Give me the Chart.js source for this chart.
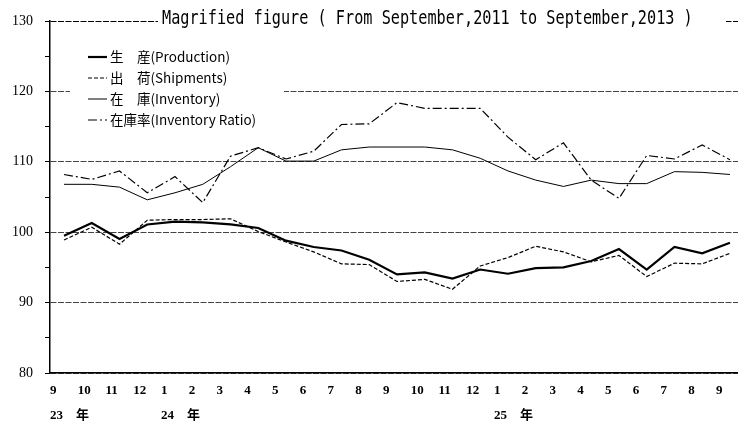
<!DOCTYPE html>
<html>
<head>
<meta charset="utf-8">
<script src="https://cdn.jsdelivr.net/npm/chart.js@4.4.0/dist/chart.umd.min.js"></script>
<style>
  body { margin: 0; background: #fff; }
  canvas { display: block; }
</style>
</head>
<body>
<canvas id="chart" width="738" height="425"></canvas>
<script>
const titleText = 'Magrified figure ( From September,2011 to September,2013 )';
const months = ['9', '10', '11', '12', '1', '2', '3', '4', '5', '6', '7', '8', '9', '10', '11', '12', '1', '2', '3', '4', '5', '6', '7', '8', '9'];
const years = ['23\u3000年', '', '', '', '24\u3000年', '', '', '', '', '', '', '', '', '', '', '', '25\u3000年', '', '', '', '', '', '', '', ''];
const seriesNames = ['生\u3000産(Production)', '出\u3000荷(Shipments)', '在\u3000庫(Inventory)', '在庫率(Inventory Ratio)'];

const production = [99.5, 101.3, 99.05, 101.1, 101.5, 101.4, 101.1, 100.6, 98.8, 97.9, 97.4, 96.1, 94.0, 94.3, 93.4, 94.7, 94.1, 94.9, 95.0, 95.9, 97.6, 94.7, 97.9, 97.0, 98.5];
const shipments = [98.9, 100.7, 98.3, 101.7, 101.8, 101.8, 101.9, 100.1, 98.6, 97.2, 95.5, 95.4, 93.0, 93.3, 91.9, 95.2, 96.4, 98.0, 97.2, 95.8, 96.7, 93.7, 95.6, 95.5, 97.0];
const inventory = [106.8, 106.8, 106.4, 104.6, 105.6, 106.8, 109.3, 112.0, 110.1, 110.1, 111.7, 112.1, 112.1, 112.1, 111.7, 110.5, 108.7, 107.4, 106.5, 107.4, 106.9, 106.9, 108.6, 108.5, 108.2];
const ratio = [108.2, 107.5, 108.7, 105.6, 107.9, 104.2, 110.8, 112.0, 110.4, 111.5, 115.3, 115.4, 118.4, 117.6, 117.6, 117.6, 113.5, 110.3, 112.7, 107.4, 104.8, 110.9, 110.4, 112.4, 110.3];

const toPoints = arr => arr.map((v, i) => ({ x: i, y: v }));

// title box and legend box sit on top of the grid, with white backgrounds
const overlay = {
  id: 'overlay',
  afterDraw(chart) {
    const ctx = chart.ctx;
    ctx.save();
    ctx.fillStyle = '#fff';
    ctx.fillRect(158, 6, 568, 28);
    ctx.fillStyle = '#000';
    ctx.textBaseline = 'middle';
    ctx.textAlign = 'left';
    ctx.save();
    ctx.translate(162, 19);
    ctx.scale(0.8, 1);
    ctx.font = '19px "DejaVu Sans Mono", monospace';
    ctx.fillText(titleText, 0, 0);
    ctx.restore();

    ctx.fillStyle = '#fff';
    ctx.fillRect(70, 45, 214, 86);
    ctx.font = '13.5px "Noto Sans CJK JP", sans-serif';
    chart.data.datasets.forEach((ds, i) => {
      const y = 57 + i * 21;
      ctx.beginPath();
      ctx.setLineDash(ds.borderDash || []);
      ctx.lineWidth = ds.borderWidth;
      ctx.strokeStyle = ds.borderColor;
      ctx.moveTo(88, y);
      ctx.lineTo(107, y);
      ctx.stroke();
      ctx.setLineDash([]);
      ctx.fillStyle = '#000';
      ctx.fillText(ds.label, 110, y);
    });
    ctx.restore();
  }
};

const ctx = document.getElementById('chart').getContext('2d');
const chart = new Chart(ctx, {
  type: 'line',
  data: {
    datasets: [{
      label: seriesNames[0],
      data: toPoints(production),
      borderColor: '#000',
      borderWidth: 2.2
    }, {
      label: seriesNames[1],
      data: toPoints(shipments),
      borderColor: '#000',
      borderWidth: 1.2,
      borderDash: [4, 2]
    }, {
      label: seriesNames[2],
      data: toPoints(inventory),
      borderColor: '#000',
      borderWidth: 1
    }, {
      label: seriesNames[3],
      data: toPoints(ratio),
      borderColor: '#000',
      borderWidth: 1.2,
      borderDash: [9, 3, 2, 3]
    }]
  },
  options: {
    responsive: false,
    animation: false,
    layout: { padding: { top: 21, left: 0, right: 0, bottom: 0 } },
    elements: { point: { radius: 0 }, line: { tension: 0 } },
    plugins: {
      legend: { display: false },
      tooltip: { enabled: false }
    },
    scales: {
      x: {
        type: 'linear',
        min: -0.505,
        max: 24.29,
        afterBuildTicks: scale => {
          scale.ticks = months.map((m, i) => ({ value: i }));
        },
        afterFit: scale => {
          scale.height = 52;
          scale.paddingLeft = 0;
          scale.paddingRight = 0;
        },
        grid: { display: false },
        border: { display: true, color: '#000', width: 1.5 },
        ticks: {
          autoSkip: false,
          maxRotation: 0,
          align: 'start',
          labelOffset: -14,
          padding: -3,
          color: '#000',
          font: { family: '"Liberation Serif", "Noto Sans CJK JP", serif', size: 13, weight: 'bold', lineHeight: '25px' },
          callback: (value) => {
            const i = Math.round(value);
            return years[i] ? [months[i], years[i]] : months[i];
          }
        }
      },
      y: {
        min: 80,
        max: 130,
        afterFit: scale => { scale.width = 50; },
        border: { display: true, color: '#000', width: 1.5, dash: [6, 1.5] },
        grid: {
          color: c => {
            if (!c.tick || c.tick.value % 10 !== 0) return 'rgba(0,0,0,0)';
            return c.tick.value === 130 ? '#000' : '#444';
          },
          lineWidth: 1,
          tickLength: 5,
          tickColor: '#000',
          tickWidth: 1
        },
        ticks: {
          stepSize: 5,
          autoSkip: false,
          padding: 12,
          color: '#000',
          font: { family: '"Liberation Serif", serif', size: 14 },
          callback: v => (v % 10 === 0 ? v : '')
        }
      }
    }
  },
  plugins: [overlay]
});
</script>
</body>
</html>
